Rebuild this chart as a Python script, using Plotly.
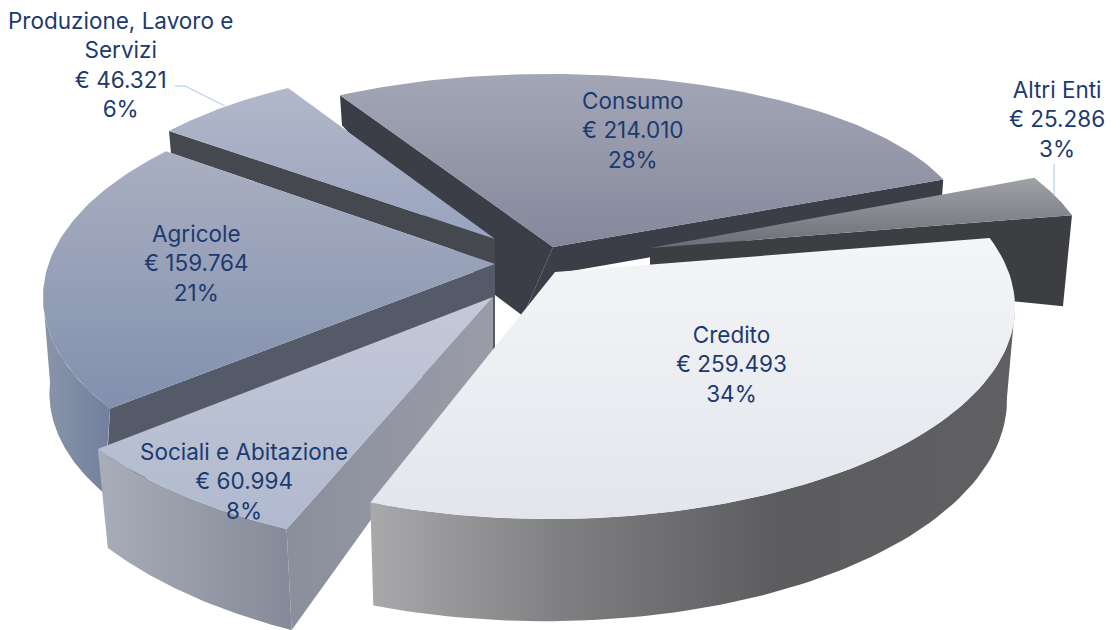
import numpy as np
import plotly.graph_objects as go

categories = ["Consumo", "Altri Enti", "Produzione, Lavoro e<br>Servizi", "Agricole", "Sociali e Abitazione", "Credito"]
values = [214010, 25286, 46321, 159764, 60994, 259493]
percents = ["28%", "3%", "6%", "21%", "8%", "34%"]

TOTAL = sum(values)
TEXT = "#1c3a70"
FONT = "Inter"

# Projection of each exploded wedge on the page (drawing order = back to front)
geometry = {
    "Consumo": dict(apex=(553, 247), centre=(549, 232), radii=(418, 158), start=240.0, span=1.0,
                    top=("#a2a6b5", "#84889b"), faces=[
                        ("start", (2, 30), [(495, 295), (523, 316)], "#3b3e47"),
                        ("end", (-2, 27), [(560, 273), (523, 316)], "#3b3e47")]),
    "Altri Enti": dict(apex=(650, 248), centre=(650, 279), radii=(445, 201), start=-30.4, span=1.0,
                       top=("#a0a2a8", "#6b6e76"), faces=[
                           ("end", (-9, 91), [(650, 265)], "#3d3e42")]),
    "Produzione, Lavoro e<br>Servizi": dict(apex=(495, 239), centre=(495, 239), radii=(416, 174), start=218.4, span=1.0,
                       top=("#b2b8ca", "#98a3bd"), faces=[
                           ("start", (2, 22), [(495, 264)], "#45484f")]),
    "Agricole": dict(apex=(495, 264), centre=(493, 297), radii=(450, 212), start=148.3, span=1.0,
                     top=("#a9afc1", "#8290ae"), wall=("#8a95aa", "#72809d"), wall_off=((-6, 85), (7, 85)), faces=[
                         ("start", (-5, 85), [(495, 350)], "#555a68")]),
    "Sociali e Abitazione": dict(apex=(493, 297), centre=(495, 298), radii=(493, 255), start=115.0, span=1.0,
                     top=("#c4c9d8", "#b0b9ce"), wall=("#a9adb9", "#858a98"), wall_off=((5, 101), (10, 99)), faces=[
                         ("start", (5, 101), [(493, 350)], ("#8b8f9c", "#9a9da8"))]),
    "Credito": dict(apex=(555, 272), centre=(550, 307), radii=(465, 212), start=-19.0, span=1.08,
                    top=("#f4f5f7", "#e2e6ec"), wall=("#a9a9ab", "#7f7f82", "#5c5c5e", "#606062"),
                    wall_off=((-8, 90), (3, 103)), bulge=3, faces=[]),
}

label_pos = {
    "Consumo": (633, 130), "Altri Enti": (1057, 119),
    "Produzione, Lavoro e<br>Servizi": (120, 64), "Agricole": (196, 263),
    "Sociali e Abitazione": (244, 481), "Credito": (731, 364),
}
leaders = [([175, 185, 225], [86, 86, 106]), ([1054, 1054], [164, 195])]


def money(v):
    return "€ " + f"{v:,}".replace(",", ".")


def arc(g, a, b, n=80):
    t = np.radians(np.linspace(a, b, n))
    return g["centre"][0] + g["radii"][0] * np.cos(t), g["centre"][1] + g["radii"][1] * np.sin(t)


def poly(fig, xs, ys, fill, name, orient="vertical", stops=None):
    if isinstance(fill, str):
        kw = dict(fillcolor=fill)
    else:
        pos = stops or list(np.linspace(0, 1, len(fill)))
        kw = dict(fillgradient=dict(type=orient, colorscale=[[float(p), c] for p, c in zip(pos, fill)],
                                    start=float(min(xs) if orient == "horizontal" else min(ys)),
                                    stop=float(max(xs) if orient == "horizontal" else max(ys))))
    fig.add_trace(go.Scatter(x=list(xs) + [xs[0]], y=list(ys) + [ys[0]], mode="lines", fill="toself",
                             line=dict(width=0), name=name, showlegend=False, hoverinfo="skip", **kw))


fig = go.Figure()
for cat, val in zip(categories, values):
    g = geometry[cat]
    a = g["start"]
    b = a + val / TOTAL * 360 * g["span"]
    ax, ay = g["apex"]
    # cut faces
    for edge, off, inner, col in g["faces"]:
        ex, ey = arc(g, a if edge == "start" else b, a if edge == "start" else b, 1)
        xs = [ax, ex[0], ex[0] + off[0]] + [p[0] for p in inner]
        ys = [ay, ey[0], ey[0] + off[1]] + [p[1] for p in inner]
        poly(fig, xs, ys, col, cat, "horizontal")
    # outer wall: only the part of the rim facing the viewer
    if "wall" in g:
        w0, w1 = max(a, 0), min(b, 180)
        tx, ty = arc(g, w0, w1)
        o0, o1 = g["wall_off"]
        f = np.linspace(0, 1, len(tx))
        bx = tx + o0[0] + (o1[0] - o0[0]) * f
        by = ty + o0[1] + (o1[1] - o0[1]) * f + g.get("bulge", 0) * np.sin(np.pi * f)
        stops = [0, 0.3, 0.635, 1] if len(g["wall"]) == 4 else None
        poly(fig, np.r_[tx, bx[::-1]], np.r_[ty, by[::-1]], g["wall"], cat, "horizontal", stops)
    # top face
    tx, ty = arc(g, a, b)
    poly(fig, np.r_[ax, tx], np.r_[ay, ty], g["top"], cat)

for lx, ly in leaders:
    fig.add_trace(go.Scatter(x=lx, y=ly, mode="lines", line=dict(color="#a9c4ec", width=1),
                             showlegend=False, hoverinfo="skip"))

for cat, val, pct in zip(categories, values, percents):
    x, y = label_pos[cat]
    fig.add_annotation(x=x, y=y, text=f"{cat}<br>{money(val)}<br>{pct}", showarrow=False,
                       xanchor="center", yanchor="middle", align="center",
                       font=dict(family=FONT, size=22.5, color=TEXT))

fig.update_layout(width=1120, height=630, margin=dict(l=0, r=0, t=0, b=0),
                  paper_bgcolor="white", plot_bgcolor="white", showlegend=False,
                  xaxis=dict(range=[0, 1120], visible=False, fixedrange=True),
                  yaxis=dict(range=[630, 0], visible=False, fixedrange=True))
fig.write_html("out.html", post_script="document.body.style.margin='0';",
               config=dict(displayModeBar=False))
